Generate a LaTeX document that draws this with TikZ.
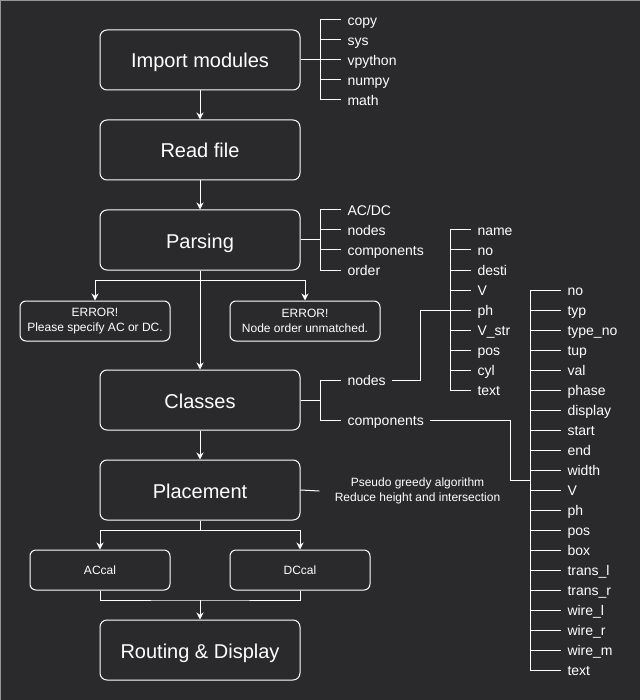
\documentclass[tikz,border=0pt]{standalone}
\usepackage{fontspec}
\setmainfont{Liberation Sans}
\usetikzlibrary{arrows.meta}
\definecolor{bg}{RGB}{42,42,44}
\definecolor{frame}{RGB}{150,150,150}
\begin{document}
\begin{tikzpicture}[x=1pt,y=-1pt,line width=1pt,
  bigbox/.style={draw=white,text=white,rounded corners=7pt,minimum width=200pt,minimum height=60pt,inner sep=0pt,text height=16pt,text depth=0pt,font=\fontsize{20}{24}\selectfont},
  smallbox/.style={draw=white,text=white,rounded corners=6pt,minimum width=150pt,minimum height=40pt,inner sep=0pt,align=center,font=\fontsize{12}{14.5}\selectfont},
  leaf/.style={anchor=west,text=white,inner xsep=6pt,inner ysep=0pt,text height=11.5pt,text depth=0.5pt,font=\fontsize{14}{16}\selectfont},
  note/.style={text=white,inner xsep=15pt,inner ysep=0pt,align=center,font=\fontsize{12}{15}\selectfont},
  wire/.style={draw=white},
  arr/.style={draw=white,-{Stealth[length=7pt,width=7pt]}}]
\fill[bg] (0,0) rectangle (640,700);
\useasboundingbox (0,0) rectangle (640,700);
\draw[frame] (0.5,700) -- (0.5,0.5) -- (640,0.5);

% main boxes
\node[bigbox] (imp) at (200,60) {Import modules};
\node[bigbox] (read) at (200,150) {Read file};
\node[bigbox] (pars) at (200,240) {Parsing};
\node[smallbox] (err1) at (95,321) {ERROR!\\Please specify AC or DC.};
\node[smallbox] (err2) at (305,321) {ERROR!\\Node order unmatched.};
\node[bigbox] (cls) at (200,400) {Classes};
\node[bigbox] (plc) at (200,490) {Placement};
\node[smallbox,minimum width=140pt] (ac) at (100,570) {ACcal};
\node[smallbox,minimum width=140pt] (dc) at (300,570) {DCcal};
\node[bigbox] (rout) at (200,650) {Routing \& Display};

% main flow
\draw[arr] (imp) -- (read);
\draw[arr] (read) -- (pars);
\draw[arr] (pars) -- (cls);
\coordinate (pb) at (200,280);
\draw[arr] (pb) -| (err1.north);
\draw[arr] (pb) -| (err2.north);
\draw[arr] (cls) -- (plc);
\coordinate (pb2) at (200,530);
\draw[wire] (plc.south) -- (pb2);
\draw[arr] (pb2) -| (ac.north);
\draw[arr] (pb2) -| (dc.north);
\coordinate (pb3) at (200,600);
\draw[wire] (ac.south) |- (pb3) -| (dc.south);
\draw[arr] (pb3) -- (rout.north);

% placement note
\node[note] (pnote) at (417.5,491) {Pseudo greedy algorithm\\Reduce height and intersection};
\draw[wire] (plc.east) -- (pnote.west);

% import modules tree
\coordinate (ibus) at (320,60);
\draw[wire] (imp.east) -- (ibus);
\draw[wire] (320,20) -- (320,100);
\foreach \t [count=\i from 0] in {copy,sys,vpython,numpy,math}{
  \node[leaf] (im\i) at (341,20+20*\i) {\t};
  \coordinate (imb\i) at (320,20+20*\i);
  \draw[wire] (imb\i) -- (im\i.west);
}

% parsing tree
\coordinate (pbus) at (320,240);
\draw[wire] (pars.east) -- (pbus);
\draw[wire] (320,210) -- (320,270);
\foreach \t [count=\i from 0] in {AC/DC,nodes,components,order}{
  \node[leaf] (pa\i) at (341,210+20*\i) {\t};
  \coordinate (pab\i) at (320,210+20*\i);
  \draw[wire] (pab\i) -- (pa\i.west);
}

% classes tree
\coordinate (cbus) at (320,400);
\draw[wire] (cls.east) -- (cbus);
\draw[wire] (320,380) -- (320,420);
\node[leaf] (cnodes) at (341,380) {nodes};
\node[leaf] (ccomp) at (341,420) {components};
\coordinate (cb1) at (320,380);
\coordinate (cb2) at (320,420);
\draw[wire] (cb1) -- (cnodes.west);
\draw[wire] (cb2) -- (ccomp.west);

% nodes attributes
\draw[wire] (cnodes.east) -- (420,380) -- (420,310) -- (450,310);
\draw[wire] (450,230) -- (450,390);
\foreach \t [count=\i from 0] in {name,no,desti,V,ph,V\_str,pos,cyl,text}{
  \node[leaf] (na\i) at (471,230+20*\i) {\t};
  \coordinate (nab\i) at (450,230+20*\i);
  \draw[wire] (nab\i) -- (na\i.west);
}

% components attributes
\draw[wire] (ccomp.east) -- (510,420) -- (510,480) -- (530,480);
\draw[wire] (530,290) -- (530,670);
\foreach \t [count=\i from 0] in {no,typ,type\_no,tup,val,phase,display,start,end,width,V,ph,pos,box,trans\_l,trans\_r,wire\_l,wire\_r,wire\_m,text}{
  \node[leaf] (co\i) at (561,290+20*\i) {\t};
  \coordinate (cob\i) at (530,290+20*\i);
  \draw[wire] (cob\i) -- (co\i.west);
}
\end{tikzpicture}
\end{document}
